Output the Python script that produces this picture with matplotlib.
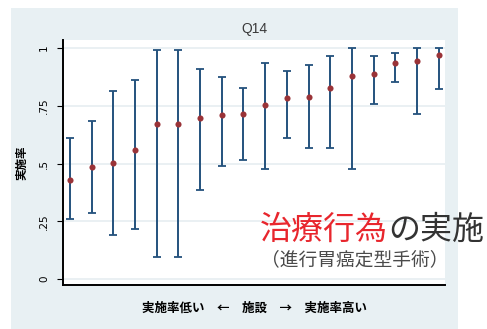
import matplotlib
matplotlib.use("Agg")
import matplotlib.pyplot as plt
from matplotlib.patches import Rectangle

plt.rcParams['font.family'] = ['DejaVu Sans']

# ---- data ----
facility = list(range(1, 19))
rate = [0.429, 0.485, 0.501, 0.557, 0.670, 0.670, 0.697, 0.710, 0.716,
        0.754, 0.782, 0.788, 0.827, 0.877, 0.889, 0.934, 0.945, 0.968]
lower = [0.260, 0.287, 0.192, 0.215, 0.097, 0.097, 0.386, 0.488, 0.517,
         0.476, 0.612, 0.566, 0.566, 0.476, 0.758, 0.853, 0.713, 0.824]
upper = [0.612, 0.685, 0.815, 0.863, 0.993, 0.993, 0.909, 0.876, 0.825,
         0.934, 0.899, 0.926, 0.965, 1.000, 0.965, 0.978, 1.000, 1.000]
yticks = [0, 0.25, 0.5, 0.75, 1]
yticklabels = ["0", ".25", ".5", ".75", "1"]
title = "Q14"
ylabel = "実施率"
xlabel = "実施率低い　←　施設　→　実施率高い"
overlay_red = "治療行為"
overlay_dark = "の実施"
overlay_sub = "（進行胃癌定型手術）"

W, H = 487, 329
fig = plt.figure(figsize=(W / 100, H / 100), dpi=100)
fig.patch.set_facecolor("white")

# panel background
fig.patches.append(Rectangle((11 / W, 0), 447 / W, (H - 8) / H,
                             transform=fig.transFigure, facecolor="#e8f0f3",
                             edgecolor="none", zorder=-5))

ax = fig.add_axes([63 / W, 1 - 285 / H, (445 - 63) / W, (285 - 40) / H])
ax.set_zorder(1)
ax.set_facecolor("white")
ax.set_xlim(0.685, 18.29)
ax.set_ylim(-0.026, 1.035)

for yv in yticks:
    ax.axhline(yv, color="#e6eef1", lw=1.2, zorder=1)

errlo = [r - l for r, l in zip(rate, lower)]
errhi = [u - r for r, u in zip(rate, upper)]
ax.errorbar(facility, rate, yerr=[errlo, errhi], fmt="none",
            ecolor="#24527d", elinewidth=1.4, capsize=3, capthick=1.3,
            zorder=3)
ax.plot(facility, rate, "o", color="#9a3338", markersize=4.4, zorder=4,
        markeredgewidth=0)

ax.set_yticks(yticks)
ax.set_yticklabels(yticklabels, rotation=90, va="center", fontsize=7.5)
ax.tick_params(axis="y", length=4, width=0.8, pad=6, colors="black")
ax.set_xticks([])
for s in ["top", "right"]:
    ax.spines[s].set_visible(False)
ax.spines["left"].set_linewidth(1.4)
ax.spines["bottom"].set_linewidth(1.4)

ax.set_title(title, fontsize=10, color="#3a3a3a", pad=5,
             family=["Liberation Sans Narrow", "Liberation Sans", "DejaVu Sans"])
ax.set_ylabel(ylabel, family=["Noto Sans CJK JP", "DejaVu Sans"],
              fontsize=8.3, fontweight="bold", labelpad=8)
ax.set_xlabel(xlabel, family=["Noto Sans CJK JP", "DejaVu Sans"],
              fontsize=9, fontweight="bold", labelpad=12)

# overlay caption
fig.text(260 / W, 1 - 230 / H, overlay_red, color="#e8262d",
         fontsize=23, family=["Noto Sans CJK JP"], va="center",
         ha="left", zorder=10)
fig.text(388 / W, 1 - 230 / H, overlay_dark, color="#333333",
         fontsize=23, family=["Noto Sans CJK JP"], va="center",
         ha="left", zorder=10)
fig.text(261 / W, 1 - 260 / H, overlay_sub, color="#4a4a4a",
         fontsize=13.5, family=["Noto Sans CJK JP"], va="center",
         ha="left", zorder=10)

fig.savefig("out.png", dpi=100)
